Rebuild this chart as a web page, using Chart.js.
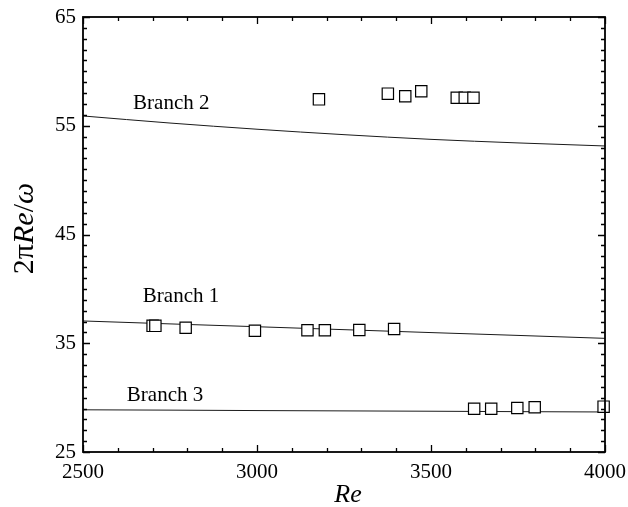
<!DOCTYPE html>
<html>
<head>
<meta charset="utf-8">
<script src="https://cdn.jsdelivr.net/npm/chart.js@4.4.1/dist/chart.umd.min.js"></script>
<style>
  html, body { margin: 0; padding: 0; background: #fff; }
</style>
</head>
<body>
<canvas id="branchChart" width="628" height="507"></canvas>
<script>
// fitted curves for the three branches
const reGrid = [2500, 2750, 3000, 3250, 3500, 3750, 4000];
const branch1Curve = [37.05, 36.78, 36.52, 36.25, 35.98, 35.72, 35.45];
const branch2Curve = [55.9, 55.25, 54.68, 54.18, 53.75, 53.42, 53.14];
const branch3Curve = [28.88, 28.85, 28.81, 28.78, 28.75, 28.71, 28.68];

// measured points
const branch1Re = [2700, 2708, 2795, 2994, 3145, 3195, 3294, 3394];
const branch1Val = [36.6, 36.6, 36.43, 36.15, 36.19, 36.19, 36.22, 36.31];
const branch2Re = [3178, 3376, 3426, 3472, 3574, 3597, 3622];
const branch2Val = [57.43, 57.95, 57.71, 58.17, 57.58, 57.58, 57.58];
const branch3Re = [3624, 3673, 3748, 3798, 3996];
const branch3Val = [28.98, 28.98, 29.05, 29.11, 29.17];

const branchNames = ['Branch 1', 'Branch 2', 'Branch 3'];
const xTicks = [2500, 3000, 3500, 4000];
const yTicks = [25, 35, 45, 55, 65];

const SERIF = "'Liberation Serif', 'Times New Roman', serif";

const toXY = (xs, ys) => xs.map((x, i) => ({ x: x, y: ys[i] }));

const markerStyle = {
  showLine: false,
  pointStyle: 'rect',
  pointRadius: 8,
  pointBorderWidth: 1.2,
  pointBorderColor: '#000',
  pointBackgroundColor: '#fff',
  clip: false
};

const curveStyle = {
  borderColor: '#1a1a1a',
  borderWidth: 1,
  pointRadius: 0,
  cubicInterpolationMode: 'monotone',
  fill: false
};

// where each branch name sits, in data units (left edge, baseline)
const nameAnchors = [
  { re: 2672, val: 38.82 },
  { re: 2644, val: 56.51 },
  { re: 2626, val: 29.72 }
];

function drawRuns(ctx, runs, x, y, size) {
  let total = 0;
  runs.forEach(r => {
    ctx.font = `${r.style} ${size}px ${SERIF}`;
    total += ctx.measureText(r.text).width;
  });
  let cx = x - total / 2;
  runs.forEach(r => {
    ctx.font = `${r.style} ${size}px ${SERIF}`;
    ctx.fillText(r.text, cx, y);
    cx += ctx.measureText(r.text).width;
  });
}

const framePlugin = {
  id: 'frame',
  afterDraw(chart) {
    const ctx = chart.ctx;
    const a = chart.chartArea;
    const xs = chart.scales.x;
    const ys = chart.scales.y;
    ctx.save();
    ctx.strokeStyle = '#000';

    // inward ticks on all four sides
    ctx.lineWidth = 1.3;
    ctx.beginPath();
    for (let v = 2500; v <= 4000; v += 100) {
      const px = Math.round(xs.getPixelForValue(v)) + 0.5;
      const len = v % 500 === 0 ? 7 : 4;
      ctx.moveTo(px, a.bottom); ctx.lineTo(px, a.bottom - len);
      ctx.moveTo(px, a.top); ctx.lineTo(px, a.top + len);
    }
    for (let v = 25; v <= 65; v += 1) {
      const py = Math.round(ys.getPixelForValue(v)) + 0.5;
      const len = (v - 25) % 10 === 0 ? 7 : 4;
      ctx.moveTo(a.left, py); ctx.lineTo(a.left + len, py);
      ctx.moveTo(a.right, py); ctx.lineTo(a.right - len, py);
    }
    ctx.stroke();

    ctx.lineWidth = 1.8;
    ctx.strokeRect(a.left, a.top, a.right - a.left, a.bottom - a.top);

    // branch names
    ctx.fillStyle = '#000';
    ctx.textBaseline = 'alphabetic';
    ctx.textAlign = 'left';
    ctx.font = `21px ${SERIF}`;
    branchNames.forEach((name, i) => {
      const p = nameAnchors[i];
      ctx.fillText(name, xs.getPixelForValue(p.re), ys.getPixelForValue(p.val));
    });

    // axis titles
    drawRuns(ctx, [{ text: 'Re', style: 'italic' }], (a.left + a.right) / 2 + 4, 502, 26);
    ctx.translate(33, (a.top + a.bottom) / 2 - 6);
    ctx.rotate(-Math.PI / 2);
    drawRuns(ctx, [
      { text: '2', style: 'normal' },
      { text: 'π', style: 'normal' },
      { text: 'Re', style: 'italic' },
      { text: '/', style: 'normal' },
      { text: 'ω', style: 'italic' }
    ], 0, 0, 30);
    ctx.restore();
  }
};

new Chart(document.getElementById('branchChart'), {
  type: 'line',
  data: {
    datasets: [
      Object.assign({ data: toXY(branch1Re, branch1Val) }, markerStyle),
      Object.assign({ data: toXY(branch2Re, branch2Val) }, markerStyle),
      Object.assign({ data: toXY(branch3Re, branch3Val) }, markerStyle),
      Object.assign({ data: toXY(reGrid, branch1Curve) }, curveStyle),
      Object.assign({ data: toXY(reGrid, branch2Curve) }, curveStyle),
      Object.assign({ data: toXY(reGrid, branch3Curve) }, curveStyle)
    ]
  },
  options: {
    responsive: false,
    animation: false,
    layout: { padding: { top: 17, right: 23, left: 0, bottom: 0 } },
    plugins: { legend: { display: false }, tooltip: { enabled: false } },
    scales: {
      x: {
        type: 'linear',
        min: 2500,
        max: 4000,
        grid: { display: false, drawTicks: false },
        border: { display: false },
        afterBuildTicks: s => { s.ticks = xTicks.map(v => ({ value: v })); },
        ticks: {
          color: '#000',
          padding: 8,
          font: { family: SERIF, size: 21 },
          callback: v => String(v)
        },
        afterFit: s => {
          s.height = 55;
          s.paddingLeft = 0;
          s.paddingRight = 0;
        }
      },
      y: {
        type: 'linear',
        min: 25,
        max: 65,
        grid: { display: false, drawTicks: false },
        border: { display: false },
        afterBuildTicks: s => { s.ticks = yTicks.map(v => ({ value: v })); },
        ticks: { color: '#000', padding: 7, font: { family: SERIF, size: 21 } },
        afterFit: s => {
          s.width = 83;
          s.paddingTop = 0;
          s.paddingBottom = 0;
        }
      }
    }
  },
  plugins: [framePlugin]
});
</script>
</body>
</html>
